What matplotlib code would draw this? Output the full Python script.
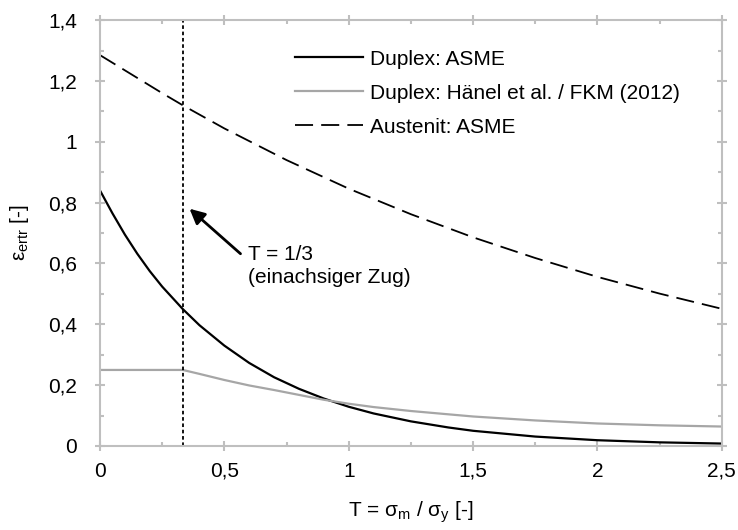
import matplotlib
matplotlib.use("Agg")
import matplotlib.pyplot as plt
from matplotlib.ticker import MultipleLocator

plt.rcParams['font.family'] = ['Liberation Sans', 'DejaVu Sans']
plt.rcParams['mathtext.fontset'] = 'custom'
plt.rcParams['mathtext.rm'] = 'Liberation Sans'
plt.rcParams['mathtext.it'] = 'Liberation Sans'
plt.rcParams['font.size'] = 15

# Duplex, ASME
t_duplex_asme = [0.0, 0.05, 0.1, 0.15, 0.2, 0.25, 0.333, 0.4, 0.5, 0.6, 0.7, 0.8,
                 0.9, 1.0, 1.1, 1.25, 1.4, 1.5, 1.75, 2.0, 2.25, 2.5]
eps_duplex_asme = [0.84, 0.765, 0.695, 0.632, 0.575, 0.524, 0.45, 0.397, 0.33,
                   0.273, 0.226, 0.188, 0.156, 0.129, 0.107, 0.081, 0.061, 0.050,
                   0.031, 0.019, 0.012, 0.008]

# Duplex, Haenel et al. / FKM (2012)
t_duplex_fkm = [0.0, 0.333, 0.4, 0.5, 0.6, 0.7, 0.8, 0.9, 1.0, 1.1, 1.25, 1.5,
                1.75, 2.0, 2.25, 2.5]
eps_duplex_fkm = [0.25, 0.25, 0.237, 0.217, 0.199, 0.184, 0.168, 0.152, 0.139,
                  0.128, 0.115, 0.097, 0.084, 0.074, 0.068, 0.064]

# Austenit, ASME
t_austenit = [0.0, 0.25, 0.333, 0.5, 0.75, 1.0, 1.25, 1.5, 1.75, 2.0, 2.25, 2.5]
eps_austenit = [1.285, 1.16, 1.12, 1.044, 0.94, 0.846, 0.762, 0.686, 0.618,
                0.556, 0.501, 0.451]

t_uniaxial = 1 / 3

x_ticks = [0, 0.5, 1, 1.5, 2, 2.5]
x_tick_labels = ["0", "0,5", "1", "1,5", "2", "2,5"]
y_ticks = [0, 0.2, 0.4, 0.6, 0.8, 1.0, 1.2, 1.4]
y_tick_labels = ["0", "0,2", "0,4", "0,6", "0,8", "1", "1,2", "1,4"]

fig = plt.figure(figsize=(7.38, 5.30), dpi=100)
ax = fig.add_axes([0.1355, 0.1585, 0.8425, 0.8035])

ax.plot(t_duplex_asme, eps_duplex_asme, color='black', lw=1.6, label='Duplex: ASME')
ax.plot(t_duplex_fkm, eps_duplex_fkm, color='#a6a6a6', lw=1.6,
        label='Duplex: Hänel et al. / FKM (2012)')
ax.plot(t_austenit, eps_austenit, color='black', lw=1.3, linestyle=(0, (10, 4.5)),
        label='Austenit: ASME')

ax.axvline(t_uniaxial, color='black', lw=1.3, linestyle=(0, (2, 1.5)))

ax.annotate('', xy=(0.36, 0.78), xytext=(0.565, 0.632),
            arrowprops=dict(arrowstyle='-|>,head_length=0.6,head_width=0.3',
                            color='black', lw=2, shrinkA=0, shrinkB=0))
ax.text(0.595, 0.628, 'T = 1/3', va='center', ha='left')
ax.text(0.595, 0.555, '(einachsiger Zug)', va='center', ha='left')

ax.set_xlim(0, 2.5)
ax.set_ylim(0, 1.4)
ax.set_xticks(x_ticks)
ax.set_xticklabels(x_tick_labels)
ax.set_yticks(y_ticks)
ax.set_yticklabels(y_tick_labels)
ax.xaxis.set_minor_locator(MultipleLocator(0.25))
ax.yaxis.set_minor_locator(MultipleLocator(0.1))

gray = '#bfbfbf'
for sp in ax.spines.values():
    sp.set_color(gray)
    sp.set_linewidth(1.5)
ax.tick_params(which='major', direction='inout', length=7, width=1.5, color=gray,
               top=True, right=True, pad=8)
ax.tick_params(axis='y', which='major', pad=13)
ax.tick_params(which='minor', direction='in', length=3, width=1.5, color=gray,
               top=True, right=True)

ax.set_xlabel('T = $\\mathrm{σ}_{\\mathrm{m}}$ / $\\mathrm{σ}_{\\mathrm{y}}$ [-]', labelpad=13)
ax.set_ylabel('$\\mathrm{ε}_{\\mathrm{ertr}}$ [-]', labelpad=12)

ax.legend(loc='upper left', bbox_to_anchor=(0.313, 0.931), frameon=False,
          borderpad=0, borderaxespad=0, handlelength=3.27, handletextpad=0.35,
          labelspacing=0.72, fontsize=15)

fig.savefig('out.png', dpi=100)
